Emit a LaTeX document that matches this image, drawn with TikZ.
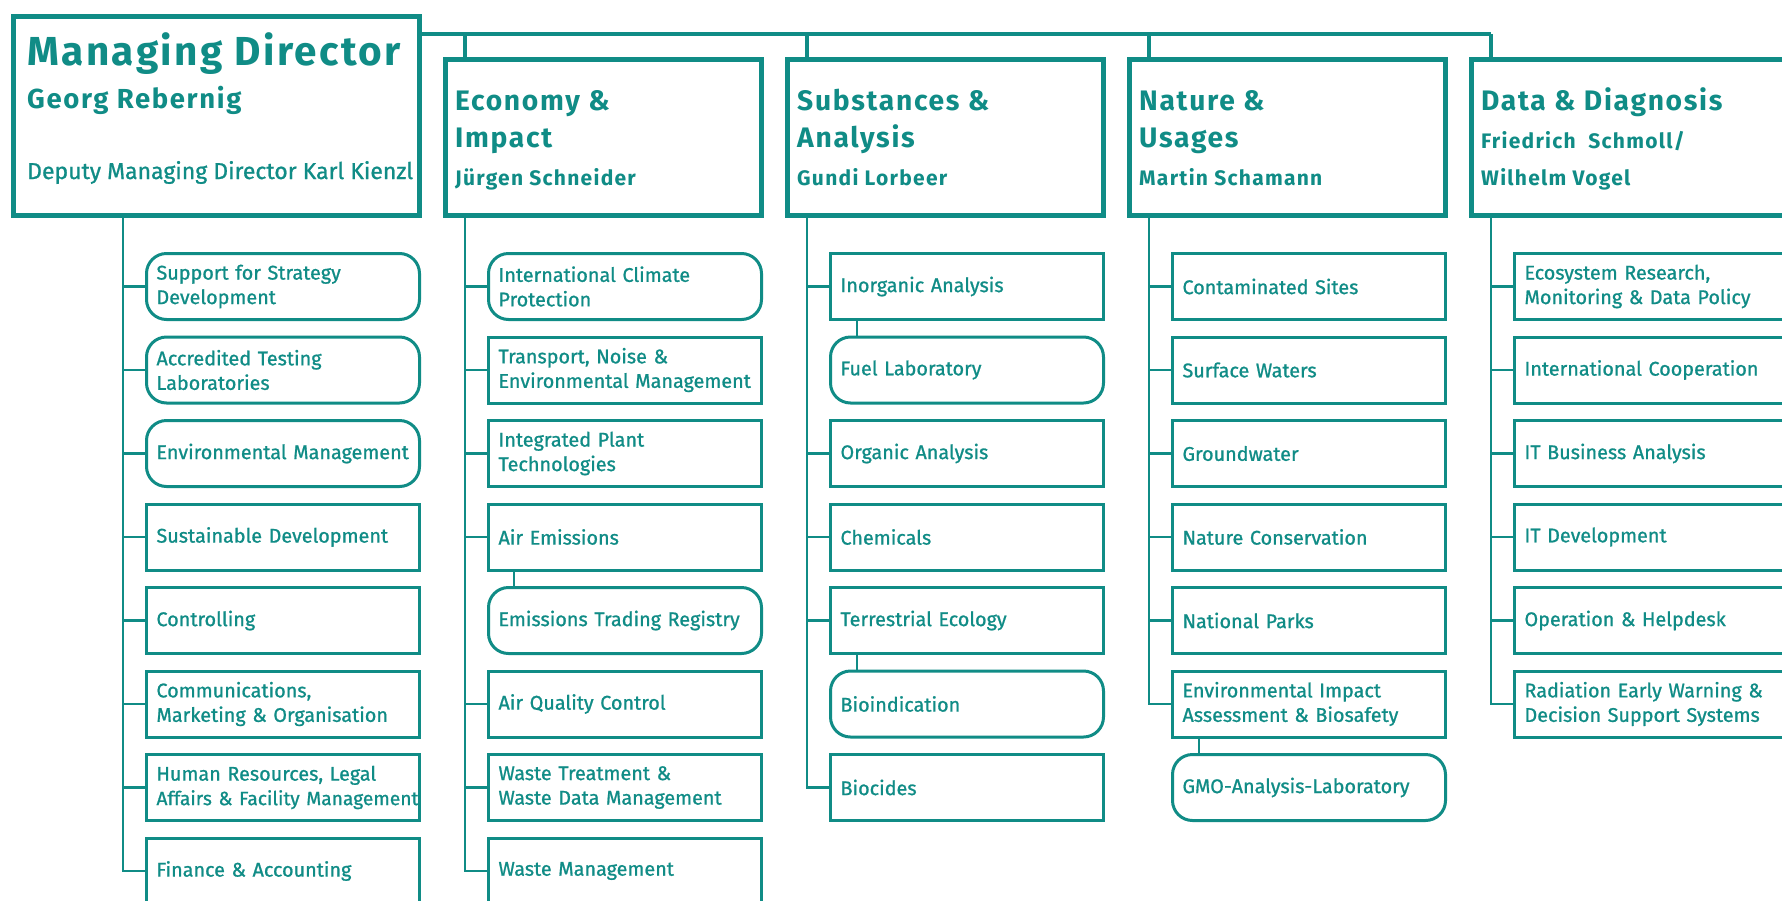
\documentclass[tikz,border=0pt]{standalone}
\usepackage{fontspec}
\setmainfont{Fira Sans}
\newfontfamily\hfont{Fira Sans}[LetterSpace=6]
\newfontfamily\sfont{Fira Sans}[FakeBold=0.9]
\definecolor{uba}{RGB}{16,140,134}
\tikzset{
 bigbox/.style={draw=uba, line width=4.5pt, anchor=north west, inner sep=0pt, minimum width=316pt, minimum height=156pt},
 subbox/.style={draw=uba, line width=3pt, anchor=north west, inner xsep=10pt, inner ysep=0pt, minimum width=273pt, minimum height=66pt, text width=253pt, align=left, text=uba, font=\sfont\fontsize{19.8}{24.5}\selectfont},
 roundbox/.style={subbox, rounded corners=20pt},
 titletext/.style={anchor=base west, inner sep=0pt, text=uba, font=\hfont\bfseries\fontsize{28.2}{33}\selectfont},
 nametext/.style={anchor=base west, inner sep=0pt, text=uba, font=\hfont\bfseries\fontsize{21}{25}\selectfont},
 bus/.style={draw=uba, line width=4pt},
 drop/.style={draw=uba, line width=3.5pt},
 link/.style={draw=uba, line width=2.6pt},
}
\begin{document}
\begin{tikzpicture}[x=1pt,y=-1pt]
\useasboundingbox (0,0) rectangle (1782,900);
\fill[white] (0,0) rectangle (1782,900);
\clip (0,0) rectangle (1782,900);

% ---------- top level boxes ----------
\node[bigbox, line width=5pt, minimum width=406pt, minimum height=199pt] (md) at (11,14) {};
\node[bigbox] (de) at (443,57) {};
\node[bigbox] (ds) at (785,57) {};
\node[bigbox] (dn) at (1127,57) {};
\node[bigbox] (dd) at (1469,57) {};

% ---------- header texts ----------
\node[titletext, font=\hfont\bfseries\fontsize{40.5}{46}\selectfont] (mdt1) at (27,65) {Managing Director};
\node[nametext, font=\hfont\bfseries\fontsize{27.5}{32}\selectfont] (mdt2) at (27,108) {Georg Rebernig};
\node[nametext, font=\sfont\fontsize{23}{27}\selectfont] (mdt3) at (27,179) {Deputy Managing Director Karl Kienzl};

\node[titletext] (det1) at (455,110) {Economy \&};
\node[titletext] (det2) at (455,147) {Impact};
\node[nametext] (det3) at (455,185) {Jürgen Schneider};

\node[titletext] (dst1) at (797,110) {Substances \&};
\node[titletext] (dst2) at (797,147) {Analysis};
\node[nametext] (dst3) at (797,185) {Gundi Lorbeer};

\node[titletext] (dnt1) at (1139,110) {Nature \&};
\node[titletext] (dnt2) at (1139,147) {Usages};
\node[nametext] (dnt3) at (1139,185) {Martin Schamann};

\node[titletext] (ddt1) at (1481,110) {Data \& Diagnosis};
\node[nametext] (ddt2) at (1481,148) {Friedrich\ \ Schmoll/};
\node[nametext] (ddt3) at (1481,185) {Wilhelm Vogel};

% ---------- bus ----------
\coordinate (busL) at (417,34);
\coordinate (busR) at (1491,34);
\coordinate (ed) at (465,57);
\coordinate (sd) at (807,57);
\coordinate (nd) at (1149,57);
\draw[bus] (busL) -- (busR);
\draw[drop] (busR) -- (busR |- dd.north);
\draw[drop] (ed |- busL) -- (ed);
\draw[drop] (sd |- busL) -- (sd);
\draw[drop] (nd |- busL) -- (nd);

% ---------- Managing Director column ----------
\node[roundbox] (m1) at (145,252) {Support for Strategy\\Development};
\node[roundbox] (m2) at (145,335.5) {Accredited Testing\\Laboratories};
\node[roundbox] (m3) at (145,419) {\mbox{Environmental Management}};
\node[subbox] (m4) at (145,502.5) {Sustainable Development};
\node[subbox] (m5) at (145,586) {Controlling};
\node[subbox] (m6) at (145,669.5) {Communications,\\Marketing \& Organisation};
\node[subbox] (m7) at (145,753) {Human Resources, Legal\\\mbox{\fontsize{19.2}{24.5}\selectfont Affairs \& Facility Management}};
\node[subbox] (m8) at (145,836.5) {Finance \& Accounting};

% ---------- Economy column ----------
\node[roundbox] (e1) at (487,252) {International Climate\\Protection};
\node[subbox] (e2) at (487,335.5) {Transport, Noise \&\\\mbox{Environmental Management}};
\node[subbox] (e3) at (487,419) {Integrated Plant\\Technologies};
\node[subbox] (e4) at (487,502.5) {Air Emissions};
\node[roundbox] (e5) at (487,586) {Emissions Trading Registry};
\node[subbox] (e6) at (487,669.5) {Air Quality Control};
\node[subbox] (e7) at (487,753) {Waste Treatment \&\\Waste Data Management};
\node[subbox] (e8) at (487,836.5) {Waste Management};

% ---------- Substances column ----------
\node[subbox] (s1) at (829,252) {Inorganic Analysis};
\node[roundbox] (s2) at (829,335.5) {Fuel Laboratory};
\node[subbox] (s3) at (829,419) {Organic Analysis};
\node[subbox] (s4) at (829,502.5) {Chemicals};
\node[subbox] (s5) at (829,586) {Terrestrial Ecology};
\node[roundbox] (s6) at (829,669.5) {Bioindication};
\node[subbox] (s7) at (829,753) {Biocides};

% ---------- Nature column ----------
\node[subbox] (n1) at (1171,252) {Contaminated Sites};
\node[subbox] (n2) at (1171,335.5) {Surface Waters};
\node[subbox] (n3) at (1171,419) {Groundwater};
\node[subbox] (n4) at (1171,502.5) {Nature Conservation};
\node[subbox] (n5) at (1171,586) {National Parks};
\node[subbox] (n6) at (1171,669.5) {Environmental Impact\\Assessment \& Biosafety};
\node[roundbox] (n7) at (1171,753) {GMO-Analysis-Laboratory};

% ---------- Data column ----------
\node[subbox] (d1) at (1513,252) {Ecosystem Research,\\Monitoring \& Data Policy};
\node[subbox] (d2) at (1513,335.5) {International Cooperation};
\node[subbox] (d3) at (1513,419) {IT Business Analysis};
\node[subbox] (d4) at (1513,502.5) {IT Development};
\node[subbox] (d5) at (1513,586) {Operation \& Helpdesk};
\node[subbox] (d6) at (1513,669.5) {Radiation Early Warning \&\\Decision Support Systems};

% ---------- spines ----------
\coordinate (ms) at (123,213);
\coordinate (es) at (465,213);
\coordinate (ss) at (807,213);
\coordinate (ns) at (1149,213);
\coordinate (dsp) at (1491,213);

\draw[link] (ms) |- (m8.west);
\foreach \k in {1,...,7} \draw[link] (ms |- m\k.west) -- (m\k.west);

\draw[link] (es) |- (e8.west);
\foreach \k in {1,2,3,4,6,7} \draw[link] (es |- e\k.west) -- (e\k.west);

\draw[link] (ss) |- (s7.west);
\foreach \k in {1,3,4,5} \draw[link] (ss |- s\k.west) -- (s\k.west);

\draw[link] (ns) |- (n6.west);
\foreach \k in {1,...,5} \draw[link] (ns |- n\k.west) -- (n\k.west);

\draw[link] (dsp) |- (d6.west);
\foreach \k in {1,...,5} \draw[link] (dsp |- d\k.west) -- (d\k.west);

% ---------- sub links ----------
\coordinate (ex) at (514,0);
\coordinate (sx) at (857,0);
\coordinate (nx) at (1199,0);
\draw[link] (ex |- e4.south) -- (ex |- e5.north);
\draw[link] (sx |- s1.south) -- (sx |- s2.north);
\draw[link] (sx |- s5.south) -- (sx |- s6.north);
\draw[link] (nx |- n6.south) -- (nx |- n7.north);
\end{tikzpicture}
\end{document}
